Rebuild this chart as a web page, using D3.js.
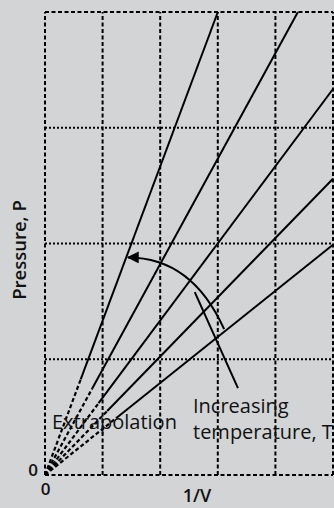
<!DOCTYPE html>
<html>
<head>
<meta charset="utf-8">
<script src="https://cdn.jsdelivr.net/npm/d3@7"></script>
<style>
  html, body { margin: 0; padding: 0; background: #d3d4d6; }
  svg { display: block; }
  text { font-family: "Open Sans", "Noto Sans", sans-serif; fill: #111; }
</style>
</head>
<body>
<svg id="chart" width="334" height="508"></svg>
<script>
// ---- data ----
const xTickValues = [0];
const yTickValues = [0];
const xTickLabels = ["0"];
const yTickLabels = ["0"];
const xGridValues = [0, 1, 2, 3, 4, 5];
const yGridValues = [1, 2, 3];
const isothermSlopes = [1.333, 0.911, 0.667, 0.512, 0.398];   // P per unit 1/V
const solidStartX = [0.62, 0.82, 0.93, 1.08, 1.25];           // where measured data begins
const arrowPath = [[3.11, 1.26], [2.55, 1.88], [1.44, 1.88]]; // start, control, end (data units)
const pointerLine = [[2.60, 1.58], [3.35, 0.75]];
const xLabel = "1/V";
const yLabel = "Pressure, P";
const extrapLabel = "Extrapolation";
const tempLabel = ["Increasing", "temperature, T"];

// ---- layout ----
const svg = d3.select("#chart");
const x = d3.scaleLinear().domain([0, 5]).range([45, 333]);
const y = d3.scaleLinear().domain([0, 4]).range([475, 12]);

// grid
const g = svg.append("g");
g.selectAll(".vgrid").data(xGridValues).join("line")
  .attr("x1", d => x(d)).attr("x2", d => x(d))
  .attr("y1", y(0)).attr("y2", y(4))
  .attr("stroke", "#000").attr("stroke-width", 2).attr("stroke-dasharray", "4,2.5");
g.selectAll(".hgrid").data(yGridValues).join("line")
  .attr("x1", x(0)).attr("x2", x(5))
  .attr("y1", d => y(d)).attr("y2", d => y(d))
  .attr("stroke", "#000").attr("stroke-width", 2).attr("stroke-dasharray", "2,2");
g.selectAll(".frame").data([0, 4]).join("line")
  .attr("x1", x(0)).attr("x2", x(5))
  .attr("y1", d => y(d)).attr("y2", d => y(d))
  .attr("stroke", "#000").attr("stroke-width", 2).attr("stroke-dasharray", "4,2.5");

// isotherms
const lines = isothermSlopes.map((m, i) => {
  const xEnd = Math.min(5, 4 / m);
  return { m, x0: solidStartX[i], xEnd };
});
svg.append("g").selectAll("line.dash").data(lines).join("line")
  .attr("x1", x(0)).attr("y1", y(0))
  .attr("x2", d => x(d.x0)).attr("y2", d => y(d.m * d.x0))
  .attr("stroke", "#000").attr("stroke-width", 2.2).attr("stroke-dasharray", "4,2.5");
svg.append("g").selectAll("line.solid").data(lines).join("line")
  .attr("x1", d => x(d.x0)).attr("y1", d => y(d.m * d.x0))
  .attr("x2", d => x(d.xEnd)).attr("y2", d => y(d.m * d.xEnd))
  .attr("stroke", "#000").attr("stroke-width", 2);

// arrow
svg.append("defs").append("marker")
  .attr("id", "ah").attr("viewBox", "0 0 10 10")
  .attr("refX", 9).attr("refY", 5)
  .attr("markerWidth", 12).attr("markerHeight", 12)
  .attr("markerUnits", "userSpaceOnUse")
  .attr("orient", "auto")
  .append("path").attr("d", "M0,0 L10,5 L0,10 Z").attr("fill", "#000");
const p = d3.path();
p.moveTo(x(arrowPath[0][0]), y(arrowPath[0][1]));
p.quadraticCurveTo(x(arrowPath[1][0]), y(arrowPath[1][1]), x(arrowPath[2][0]), y(arrowPath[2][1]));
svg.append("path").attr("d", p.toString())
  .attr("fill", "none").attr("stroke", "#000").attr("stroke-width", 2)
  .attr("marker-end", "url(#ah)");
svg.append("line")
  .attr("x1", x(pointerLine[0][0])).attr("y1", y(pointerLine[0][1]))
  .attr("x2", x(pointerLine[1][0])).attr("y2", y(pointerLine[1][1]))
  .attr("stroke", "#000").attr("stroke-width", 2);

// axes (tick labels only)
const xAxis = svg.append("g").attr("transform", `translate(0,${y(0)})`)
  .call(d3.axisBottom(x).tickValues(xTickValues).tickSize(0).tickPadding(8)
    .tickFormat((d, i) => xTickLabels[i]));
const yAxis = svg.append("g").attr("transform", `translate(${x(0)},0)`)
  .call(d3.axisLeft(y).tickValues(yTickValues).tickSize(0).tickPadding(7)
    .tickFormat((d, i) => yTickLabels[i]));
[xAxis, yAxis].forEach(a => {
  a.select(".domain").remove();
  a.selectAll("text").attr("font-family", "Open Sans").attr("font-size", 17)
    .attr("font-weight", 600).attr("fill", "#111");
});
yAxis.selectAll("text").attr("dy", "0.05em");

// axis titles
svg.append("text").attr("x", 197).attr("y", 502).attr("text-anchor", "middle")
  .attr("font-size", 18).attr("font-weight", 600).text(xLabel);
svg.append("text").attr("transform", "translate(26,250) rotate(-90)")
  .attr("text-anchor", "middle").attr("font-size", 18.5).attr("font-weight", 600).text(yLabel);

// annotations
svg.append("text").attr("x", 52).attr("y", 429).attr("font-size", 20).text(extrapLabel);
svg.append("text").attr("x", 193).attr("y", 413).attr("font-size", 20).text(tempLabel[0]);
svg.append("text").attr("x", 193).attr("y", 439).attr("font-size", 20).text(tempLabel[1]);
</script>
</body>
</html>
